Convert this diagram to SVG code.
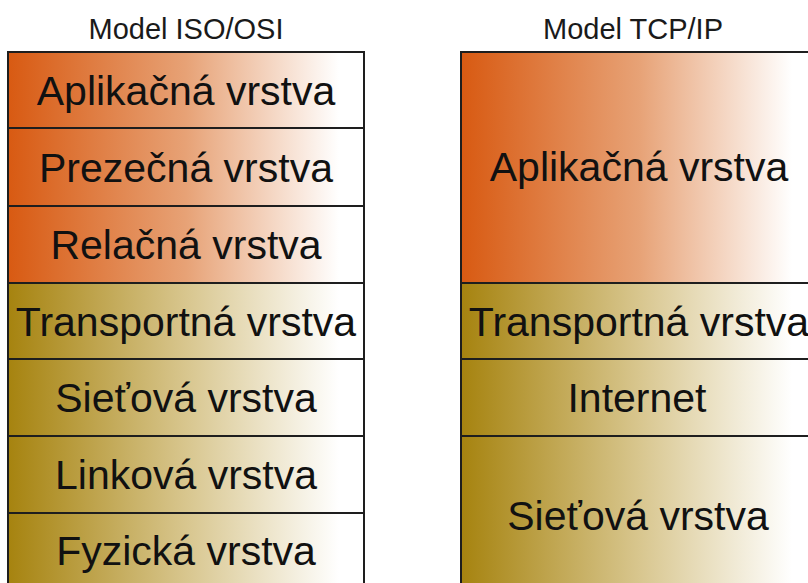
<svg xmlns="http://www.w3.org/2000/svg" width="808" height="583" viewBox="0 0 808 583">
<defs>
<linearGradient id="gOrange" x1="0" y1="0" x2="1" y2="0">
<stop offset="0" stop-color="#D85A12"/>
<stop offset="0.5" stop-color="#E7A276"/>
<stop offset="0.93" stop-color="#FFFFFF"/>
<stop offset="1" stop-color="#FFFFFF"/>
</linearGradient>
<linearGradient id="gGold" x1="0" y1="0" x2="1" y2="0">
<stop offset="0" stop-color="#A6830F"/>
<stop offset="0.5" stop-color="#D8C68E"/>
<stop offset="0.93" stop-color="#FFFFFF"/>
<stop offset="1" stop-color="#FFFFFF"/>
</linearGradient>
</defs>
<style>
.o{fill:url(#gOrange);stroke:#1e1e1e;stroke-width:2}
.g{fill:url(#gGold);stroke:#1e1e1e;stroke-width:2}
.t{font-family:"Liberation Sans",Arial,sans-serif;font-size:41px;fill:#111;text-anchor:middle}
.h{font-family:"Liberation Sans",Arial,sans-serif;font-size:29px;fill:#1a1a1a;text-anchor:middle}
</style>
<rect width="808" height="583" fill="#fff"/>
<g id="title-osi"><text class="h" x="186" y="39">Model ISO/OSI</text></g>
<g id="title-tcp"><text class="h" x="633" y="39">Model TCP/IP</text></g>

<g id="osi-aplikacna"><rect class="o" x="8" y="52" width="356" height="76"/><text class="t" x="186" y="105">Aplikačná vrstva</text></g>
<g id="osi-prezecna"><rect class="o" x="8" y="128" width="356" height="78"/><text class="t" x="186" y="182">Prezečná vrstva</text></g>
<g id="osi-relacna"><rect class="o" x="8" y="206" width="356" height="77"/><text class="t" x="186" y="259">Relačná vrstva</text></g>
<g id="osi-transportna"><rect class="g" x="8" y="283" width="356" height="76"/><text class="t" x="186" y="336">Transportná vrstva</text></g>
<g id="osi-sietova"><rect class="g" x="8" y="359" width="356" height="77"/><text class="t" x="186" y="412">Sieťová vrstva</text></g>
<g id="osi-linkova"><rect class="g" x="8" y="436" width="356" height="77"/><text class="t" x="186" y="489">Linková vrstva</text></g>
<g id="osi-fyzicka"><rect class="g" x="8" y="513" width="356" height="80"/><text class="t" x="186" y="565">Fyzická vrstva</text></g>

<g id="tcp-aplikacna"><rect class="o" x="461" y="52" width="356" height="231"/><text class="t" x="639" y="181">Aplikačná vrstva</text></g>
<g id="tcp-transportna"><rect class="g" x="461" y="283" width="356" height="76"/><text class="t" x="639" y="336">Transportná vrstva</text></g>
<g id="tcp-internet"><rect class="g" x="461" y="359" width="356" height="77"/><text class="t" x="637" y="412">Internet</text></g>
<g id="tcp-sietova"><rect class="g" x="461" y="436" width="356" height="157"/><text class="t" x="638" y="530">Sieťová vrstva</text></g>
</svg>
